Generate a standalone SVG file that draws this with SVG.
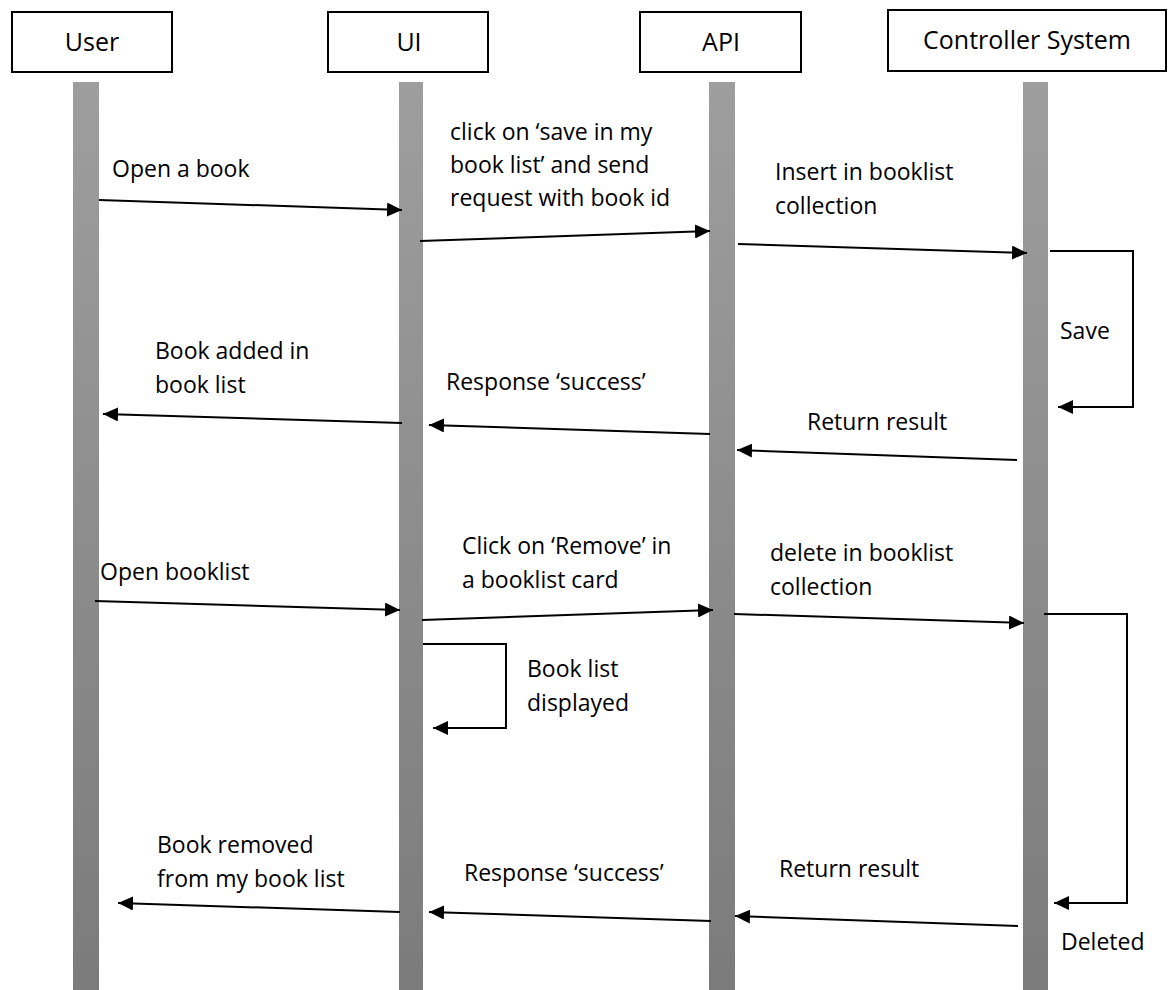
<svg xmlns="http://www.w3.org/2000/svg" width="1175" height="990" viewBox="0 0 1175 990">
  <style>
    .head { fill: #ffffff; stroke: #000000; stroke-width: 2; }
    .head-text { font-family: "Open Sans", "Liberation Sans", sans-serif; font-size: 25px; fill: #000000; text-anchor: middle; }
    .life { fill: url(#lifeGrad); }
    .msg { fill: none; stroke: #000000; stroke-width: 2; marker-end: url(#arrow); }
    .label { font-family: "Open Sans", "Liberation Sans", sans-serif; font-size: 23px; fill: #000000; }
  </style>
  <defs>
    <linearGradient id="lifeGrad" gradientUnits="userSpaceOnUse" x1="0" y1="82" x2="0" y2="990">
      <stop offset="0" stop-color="#9e9e9e"/>
      <stop offset="1" stop-color="#7b7b7b"/>
    </linearGradient>
    <marker id="arrow" markerUnits="userSpaceOnUse" markerWidth="16" markerHeight="14" refX="15" refY="7" orient="auto">
      <path d="M0,0 L15,7 L0,14 Z" fill="#000000"/>
    </marker>
  </defs>

  <rect width="1175" height="990" fill="#ffffff"/>

  <!-- Participants: header box plus lifeline bar -->
  <g id="user">
    <rect class="head" x="12" y="12" width="160" height="60"/>
    <text class="head-text" x="92" y="51">User</text>
    <rect class="life" x="73" y="82" width="26" height="908"/>
  </g>
  <g id="ui">
    <rect class="head" x="328" y="12" width="160" height="60"/>
    <text class="head-text" x="409" y="51">UI</text>
    <rect class="life" x="399" y="82" width="24" height="908"/>
  </g>
  <g id="api">
    <rect class="head" x="640" y="12" width="161" height="60"/>
    <text class="head-text" x="721" y="51">API</text>
    <rect class="life" x="709" y="82" width="26" height="908"/>
  </g>
  <g id="controller">
    <rect class="head" x="888" y="10" width="278" height="61"/>
    <text class="head-text" x="1027" y="49">Controller System</text>
    <rect class="life" x="1023" y="82" width="25" height="908"/>
  </g>

  <!-- Messages -->
  <g id="connectors">
    <!-- save flow -->
    <line class="msg" x1="99" y1="200" x2="402" y2="210"/>
    <text class="label" x="112" y="177">Open a book</text>

    <line class="msg" x1="420" y1="241" x2="710" y2="231"/>
    <text class="label" x="450" y="140">click on ‘save in my</text>
    <text class="label" x="450" y="173">book list’ and send</text>
    <text class="label" x="450" y="206">request with book id</text>

    <line class="msg" x1="738" y1="244" x2="1027" y2="253"/>
    <text class="label" x="775" y="180">Insert in booklist</text>
    <text class="label" x="775" y="214">collection</text>

    <polyline class="msg" points="1050,251 1133,251 1133,407 1058,407"/>
    <text class="label" x="1060" y="339">Save</text>

    <line class="msg" x1="1017" y1="460" x2="737" y2="450"/>
    <text class="label" x="807" y="430">Return result</text>

    <line class="msg" x1="710" y1="434" x2="429" y2="425"/>
    <text class="label" x="446" y="390">Response ‘success’</text>

    <line class="msg" x1="402" y1="423" x2="103" y2="414"/>
    <text class="label" x="155" y="359">Book added in</text>
    <text class="label" x="155" y="393">book list</text>

    <!-- remove flow -->
    <line class="msg" x1="95" y1="601" x2="400" y2="610"/>
    <text class="label" x="100" y="580">Open booklist</text>

    <line class="msg" x1="422" y1="620" x2="713" y2="610"/>
    <text class="label" x="462" y="554">Click on ‘Remove’ in</text>
    <text class="label" x="462" y="588">a booklist card</text>

    <polyline class="msg" points="423,644 506,644 506,728 433,728"/>
    <text class="label" x="527" y="677">Book list</text>
    <text class="label" x="527" y="711">displayed</text>

    <line class="msg" x1="734" y1="614" x2="1024" y2="623"/>
    <text class="label" x="770" y="561">delete in booklist</text>
    <text class="label" x="770" y="595">collection</text>

    <polyline class="msg" points="1044,614 1127,614 1127,903 1054,903"/>
    <text class="label" x="1061" y="950">Deleted</text>

    <line class="msg" x1="1018" y1="926" x2="735" y2="916"/>
    <text class="label" x="779" y="877">Return result</text>

    <line class="msg" x1="711" y1="921" x2="429" y2="912"/>
    <text class="label" x="464" y="881">Response ‘success’</text>

    <line class="msg" x1="400" y1="912" x2="118" y2="903"/>
    <text class="label" x="157" y="853">Book removed</text>
    <text class="label" x="157" y="887">from my book list</text>
  </g>
</svg>
